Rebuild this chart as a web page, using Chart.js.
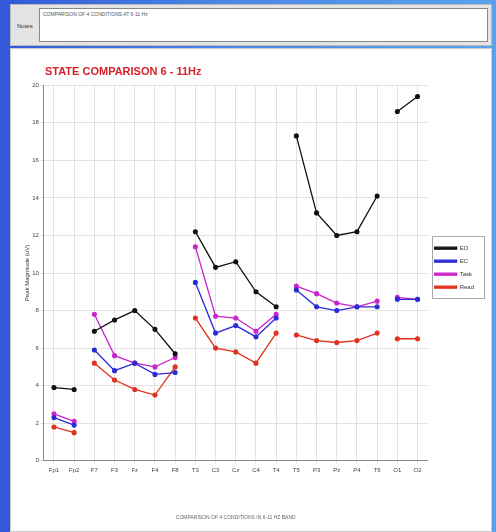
<!DOCTYPE html>
<html>
<head>
<meta charset="utf-8">
<script src="https://cdn.jsdelivr.net/npm/chart.js@4/dist/chart.umd.min.js"></script>
<style>
  html, body { margin: 0; padding: 0; }
  body {
    width: 496px; height: 532px; overflow: hidden; position: relative;
    background: linear-gradient(90deg, #3159d8 0%, #4a86e6 45%, #58a2ee 100%);
    font-family: "Liberation Sans", Arial, sans-serif;
  }
  #top {
    position: absolute; left: 10px; top: 4px; width: 482px; height: 42px;
    background: #e4e4e4; border: 1px solid #bbb; box-sizing: border-box;
  }
  #top .lbl { position: absolute; left: 6px; top: 18px; font-size: 6px; color: #333; }
  #top .box {
    position: absolute; left: 28px; top: 3px; right: 3px; bottom: 3px;
    background: #fff; border: 1px solid #888;
    font-size: 5px; color: #555; padding: 2px 3px; box-sizing: border-box;
  }
  #panel {
    position: absolute; left: 10px; top: 48px; width: 482px; height: 484px;
    background: #fff; border: 1px solid #ccc; box-sizing: border-box;
  }
  #wrap { position: absolute; left: 14px; top: 58px; width: 474px; height: 470px; }
</style>
</head>
<body>
<div id="top"><div class="lbl">Notes</div><div class="box">COMPARISON OF 4 CONDITIONS AT 6-11 Hz</div></div>
<div id="panel"></div>
<div id="wrap"><canvas id="chartCanvas"></canvas></div>
<script>
// electrode sites along the x axis (10-20 system)
var sites = ['Fp1','Fp2','F7','F3','Fz','F4','F8','T3','C3','Cz','C4','T4','T5','P3','Pz','P4','T6','O1','O2']
// last index of each region, the line is broken after these
var groupEnds = [1, 6, 11, 16]

var seriesNames = ['EO', 'EC', 'Task', 'Read']
var seriesColors = ['#111111', '#2b2bd6', '#cc22cc', '#e0301e']

var eoValues   = [3.9, 3.8, 6.9, 7.5, 8.0, 7.0, 5.7, 12.2, 10.3, 10.6, 9.0, 8.2, 17.3, 13.2, 12.0, 12.2, 14.1, 18.6, 19.4]
var ecValues   = [2.3, 1.9, 5.9, 4.8, 5.2, 4.6, 4.7, 9.5, 6.8, 7.2, 6.6, 7.6, 9.1, 8.2, 8.0, 8.2, 8.2, 8.6, 8.6]
var taskValues = [2.5, 2.1, 7.8, 5.6, 5.2, 5.0, 5.5, 11.4, 7.7, 7.6, 6.9, 7.8, 9.3, 8.9, 8.4, 8.2, 8.5, 8.7, 8.6]
var readValues = [1.8, 1.5, 5.2, 4.3, 3.8, 3.5, 5.0, 7.6, 6.0, 5.8, 5.2, 6.8, 6.7, 6.4, 6.3, 6.4, 6.8, 6.5, 6.5]

var yTicks = [0, 2, 4, 6, 8, 10, 12, 14, 16, 18, 20]

var allValues = [eoValues, ecValues, taskValues, readValues]

var datasets = seriesNames.map((name, i) => {
    var col = seriesColors[i]
    return {
        label: name,
        data: allValues[i],
        borderColor: col,
        backgroundColor: col,
        borderWidth: 1.3,
        pointRadius: 1.9,
        pointHoverRadius: 2.5,
        pointStyle: 'circle',
        tension: 0,
        segment: {
            // no line between the head regions
            borderColor: ctx => groupEnds.includes(ctx.p0DataIndex) ? 'rgba(0,0,0,0)' : col
        }
    }
})

// thin frame round the legend items only
var legendFrame = {
    id: 'legendFrame',
    afterDraw(chart) {
        var boxes = chart.legend && chart.legend.legendHitBoxes
        if (!boxes || !boxes.length) return
        var l = Math.min(...boxes.map(b => b.left)) - 3
        var t = Math.min(...boxes.map(b => b.top)) - 9
        var r = Math.max(...boxes.map(b => b.left + b.width)) + 10
        var btm = Math.max(...boxes.map(b => b.top + b.height)) + 8
        var c = chart.ctx
        c.save()
        c.strokeStyle = '#aaa'
        c.lineWidth = 1
        c.strokeRect(Math.round(l) + 0.5, Math.round(t) + 0.5, Math.round(r - l), Math.round(btm - t))
        c.restore()
    }
}

// push the title in line with the plot, like the original
var titleShift = {
    id: 'titleShift',
    afterLayout(chart) {
        if (chart.titleBlock) chart.titleBlock.left += 21
    }
}

var myChart = new Chart(document.getElementById('chartCanvas'), {
    type: 'line',
    data: { labels: sites, datasets: datasets },
    plugins: [legendFrame, titleShift],
    options: {
        responsive: true,
        maintainAspectRatio: false,
        animation: false,
        layout: { padding: { left: 10, right: 4, top: 5, bottom: 7 } },
        plugins: {
            title: {
                display: true,
                text: 'STATE COMPARISON 6 - 11Hz',
                align: 'start',
                color: '#d8202a',
                font: { size: 11, weight: 'bold', family: 'Liberation Sans' },
                padding: { top: 2, bottom: 7 }
            },
            legend: {
                position: 'right',
                align: 'start',
                title: { display: true, text: ' ', padding: { top: 168, bottom: 0 }, font: { size: 6 } },
                labels: {
                    boxWidth: 22,
                    boxHeight: 2,
                    padding: 7,
                    color: '#333',
                    font: { size: 6, family: 'Liberation Sans' }
                }
            },
            tooltip: { enabled: false }
        },
        scales: {
            x: {
                offset: true,
                grid: { color: '#e2e2e2', lineWidth: 1, offset: false, drawTicks: true, tickLength: 3 },
                border: { color: '#888' },
                ticks: { color: '#444', font: { size: 6, family: 'Liberation Sans' }, maxRotation: 0, autoSkip: false, padding: 3 },
                title: {
                    display: true,
                    text: 'COMPARISON OF 4 CONDITIONS IN 6-11 HZ BAND',
                    color: '#666',
                    font: { size: 5, family: 'Liberation Sans' },
                    padding: { top: 38, bottom: 0 }
                }
            },
            y: {
                min: 0,
                max: 20,
                afterBuildTicks: axis => { axis.ticks = yTicks.map(v => ({ value: v })) },
                grid: { color: '#e2e2e2', tickLength: 4 },
                border: { color: '#888' },
                ticks: { color: '#444', font: { size: 6, family: 'Liberation Sans' }, padding: 1 },
                title: {
                    display: true,
                    text: 'Peak Magnitude (uV)',
                    color: '#333',
                    font: { size: 6, family: 'Liberation Sans' },
                    padding: 0
                }
            }
        }
    }
})
</script>
</body>
</html>
